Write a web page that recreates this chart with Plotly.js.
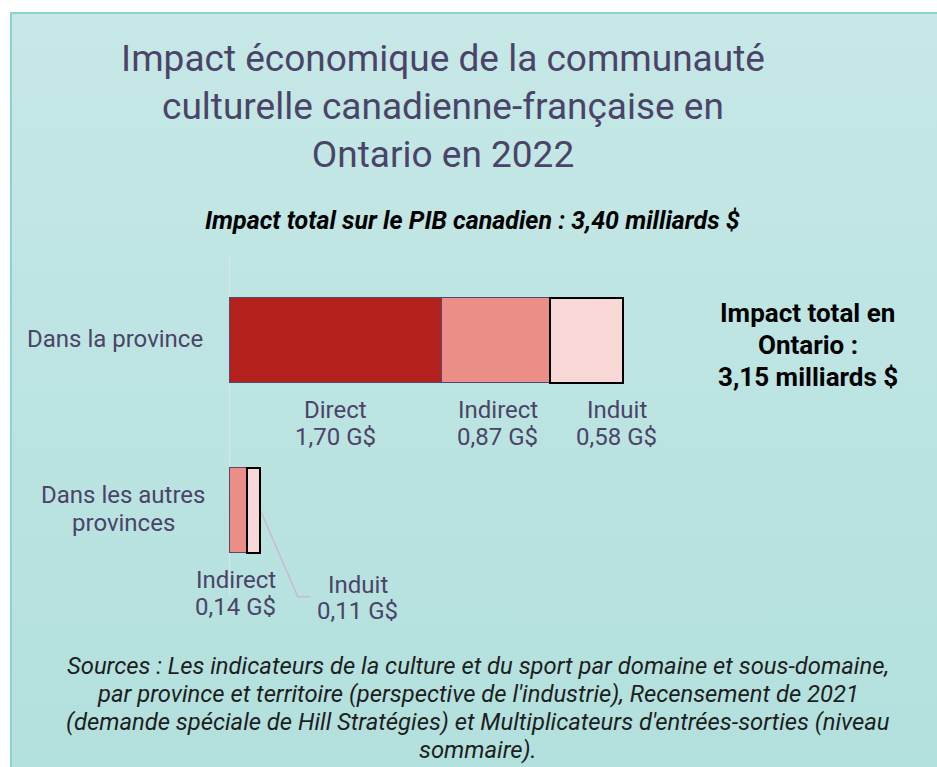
<!DOCTYPE html>
<html>
<head>
<meta charset="utf-8">
<script src="https://cdn.plot.ly/plotly-3.0.1.min.js"></script>
<style>
  html, body { margin: 0; padding: 0; background: #ffffff; }
  #card {
    position: absolute; left: 10px; top: 12px; width: 940px; height: 770px;
    box-sizing: border-box;
    border-left: 2px solid #8ed3cb; border-top: 2px solid #8ed3cb;
    background: linear-gradient(to bottom, #c6e8e7 0%, #b2e0dc 100%);
  }
  #chart { position: absolute; left: 0; top: 0; width: 937px; height: 767px; }
</style>
</head>
<body>
<div id="card"></div>
<div id="chart"></div>
<script>
// ---- data ----
const categories = ["Dans la province", "Dans les autres provinces"];
const categoryLabelLines = [["Dans la province"], ["Dans les autres", "provinces"]];
const seriesNames = ["Direct", "Indirect", "Induit"];
const direct   = [1.70, 0];
const indirect = [0.87, 0.14];
const induit   = [0.58, 0.11];
const valueLabels = {
  province: ["1,70 G$", "0,87 G$", "0,58 G$"],
  autres:   ["", "0,14 G$", "0,11 G$"]
};
const titleLines = ["Impact économique de la communauté", "culturelle canadienne-française en", "Ontario en 2022"];
const subtitle = "Impact total sur le PIB canadien : 3,40 milliards $";
const totalOntario = ["Impact total en", "Ontario :", "3,15 milliards $"];
const sourceLines = [
  "Sources : Les indicateurs de la culture et du sport par domaine et sous-domaine,",
  "par province et territoire (perspective de l'industrie), Recensement de 2021",
  "(demande spéciale de Hill Stratégies) et Multiplicateurs d'entrées-sorties (niveau",
  "sommaire)."
];

// ---- style ----
const W = 937, H = 767;
const ML = 229, MR = 8, MT = 255, MB = 767 - 663;
const XMAX = 5.6;
const colors = ["#b5221e", "#ec8e88", "#f8d8d6"];
const outline = ["#524a6e", "#524a6e", "#000000"];
const outW = [1.5, 1.5, 2];
const txt = "#4b4468";
const font = "Roboto, 'Open Sans', sans-serif";
const LBL = 24;

const px2paperX = p => (p - ML) / (W - ML - MR);
const px2paperY = p => 1 - (p - MT) / (H - MT - MB);

const vals = [direct, indirect, induit];
const traces = seriesNames.map((n, i) => ({
  type: "bar", orientation: "h", name: n,
  y: [0, 1], x: vals[i], width: 0.5,
  marker: { color: colors[i], line: { color: outline[i], width: outW[i] } },
  hoverinfo: "x+name", showlegend: false
}));

const ann = [];
function lineAnn(x, y, text, yshift, opts) {
  ann.push(Object.assign({
    xref: "x", yref: "y", x: x, y: y, yshift: yshift, text: text, showarrow: false,
    xanchor: "center", yanchor: "middle", align: "center",
    font: { family: font, size: LBL, color: txt }
  }, opts || {}));
}
// category labels
lineAnn(0, 0, categoryLabelLines[0][0], 1, { xanchor: "right", xshift: -24 });
lineAnn(0, 1, categoryLabelLines[1][0], 15, { xanchor: "center", xshift: -106 });
lineAnn(0, 1, categoryLabelLines[1][1], -13, { xanchor: "center", xshift: -106 });
// value labels, province row
let cum = 0;
seriesNames.forEach((n, i) => {
  const v = vals[i][0];
  const cx = cum + v / 2;
  const xs = i === 2 ? 30 : (i === 1 ? 2 : 0);
  lineAnn(cx, 0, n, -70, { xshift: xs });
  lineAnn(cx, 0, valueLabels.province[i], -97, { xshift: xs });
  cum += v;
});
// other provinces
const ind2 = indirect[1], idu2 = induit[1];
lineAnn(ind2 / 2, 1, "Indirect", -70, { xshift: -2 });
lineAnn(ind2 / 2, 1, valueLabels.autres[1], -97, { xshift: -2 });
lineAnn(1.03, 1, "Induit", -75);
lineAnn(1.03, 1, valueLabels.autres[2], -101);
// total Ontario
[-27, 5, 37].forEach((d, k) => lineAnn(4.63, 0, "<b>" + totalOntario[k] + "</b>", -d,
  { font: { family: font, size: 26, color: "#000000" } }));
// subtitle
ann.push({ xref: "paper", yref: "paper", x: px2paperX(472), y: px2paperY(220),
  xanchor: "center", yanchor: "middle", text: "<b><i>" + subtitle + "</i></b>",
  showarrow: false, font: { family: font, size: 25, color: "#000000" } });
// sources
sourceLines.forEach((s, k) => ann.push({ xref: "paper", yref: "paper", x: px2paperX(478),
  y: px2paperY(666 + 28 * k), xanchor: "center", yanchor: "middle", text: "<i>" + s + "</i>",
  showarrow: false, font: { family: font, size: 23.8, color: "#1e1e1e" } }));

const shapes = [
  { type: "line", xref: "x", yref: "y", x0: 0, x1: 0, y0: -0.5, y1: 1.5, layer: "below",
    line: { color: "#dde2ee", width: 2 } },
  { type: "path", xref: "x", yref: "y", layer: "below",
    path: `M ${ind2 + idu2} 1 L 0.55 1.51 L 0.65 1.51`,
    line: { color: "#c9b9d3", width: 1.5 } }
];

const layout = {
  width: W, height: H,
  margin: { l: ML, r: MR, t: MT, b: MB, pad: 0 },
  paper_bgcolor: "rgba(0,0,0,0)", plot_bgcolor: "rgba(0,0,0,0)",
  barmode: "stack", showlegend: false,
  title: { text: titleLines.join("<br>"), xref: "container", yref: "container",
    x: 443 / W, xanchor: "center", y: 1 - 71 / H, yanchor: "middle",
    font: { family: font, size: 37, color: txt } },
  xaxis: { range: [0, XMAX], visible: false, fixedrange: true },
  yaxis: { range: [1.9, -0.5], visible: false, fixedrange: true },
  annotations: ann, shapes: shapes
};

Plotly.newPlot("chart", traces, layout, { displayModeBar: false, staticPlot: true });
</script>
</body>
</html>
